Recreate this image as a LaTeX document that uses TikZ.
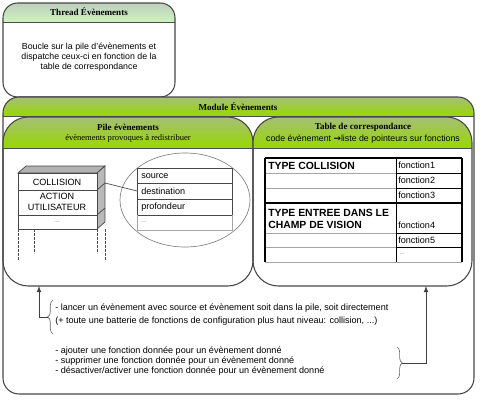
\documentclass[tikz,border=0pt]{standalone}
\usepackage{fontspec}
\setmainfont{Liberation Sans}
\newfontfamily\hdrfont{Liberation Serif}
\newfontfamily\symfont{DejaVu Sans}
\usetikzlibrary{decorations.pathreplacing}

\definecolor{thrtop}{RGB}{190,206,190}
\definecolor{thrbot}{RGB}{206,244,190}
\definecolor{modtop}{RGB}{165,190,120}
\definecolor{modbot}{RGB}{152,216,0}
\definecolor{edge}{RGB}{70,70,70}

\tikzset{
  boxline/.style={draw=edge, line width=0.8pt},
  hdr/.style={font=\hdrfont\bfseries\fontsize{6.8}{7.5}\selectfont, inner sep=0pt},
  sub/.style={font=\hdrfont\fontsize{6.4}{7}\selectfont, inner sep=0pt},
  txt/.style={font=\fontsize{6.6}{7.5}\selectfont, align=center, inner sep=0pt},
  cell/.style={font=\fontsize{6.8}{7}\selectfont, anchor=west, inner sep=0pt},
  bcell/.style={font=\bfseries\fontsize{7.8}{9}\selectfont, anchor=west, inner sep=0pt, align=left},
  dots/.style={text=gray, font=\fontsize{5}{6}\selectfont, inner sep=0pt},
  grid/.style={draw=gray!70, line width=0.5pt},
  lnk/.style={draw=black!75, line width=0.6pt, -latex},
  bracket/.style={draw=black!60, line width=0.5pt, decorate, decoration={brace, amplitude=4pt}},
}

\begin{document}
\begin{tikzpicture}[x=0.75pt, y=-0.75pt]
\useasboundingbox (0,0) rectangle (480,400);

% thread
\begin{scope}
  \clip[rounded corners=11pt] (3,3) rectangle (175,97);
  \shade[top color=thrtop, bottom color=thrbot] (3,3) rectangle (175,22);
\end{scope}
\draw[draw=black!70, line width=0.6pt] (3,22) -- (175,22);
\draw[boxline, rounded corners=11pt] (3,3) rectangle (175,97);
\node[hdr] (thread) at (89,12) {Thread Évènements};
\node[txt] (threadtxt) at (89,57) {Boucle sur la pile d’évènements et\\dispatche ceux-ci en fonction de la\\table de correspondance};

% module
\begin{scope}
  \clip[rounded corners=12pt] (3,97) rectangle (474,394);
  \shade[top color=modtop, bottom color=modbot] (3,97) rectangle (474,116);
\end{scope}
\draw[draw=black!70, line width=0.6pt] (3,116) -- (474,116);
\draw[boxline, rounded corners=12pt] (3,97) rectangle (474,394);
\node[hdr] (module) at (238,107) {Module Évènements};

% pile and table boxes
\foreach \xa/\xb in {3/253, 253/472} {
  \begin{scope}
    \clip[rounded corners=19pt] (\xa,117) rectangle (\xb,286);
    \shade[top color=modtop, bottom color=modbot] (\xa,117) rectangle (\xb,148);
  \end{scope}
  \draw[draw=black!70, line width=0.6pt] (\xa,148) -- (\xb,148);
  \draw[boxline, fill=none, rounded corners=19pt] (\xa,117) rectangle (\xb,286);
}
\node[hdr] (pile) at (128,127) {Pile évènements};
\node[sub] (pilesub) at (128,138) {évènements provoques à redistribuer};
\node[hdr] (table) at (363,127) {Table de correspondance};
\node[txt] (tablesub) at (363,139) {code évènement {\symfont\bfseries →}liste de pointeurs sur fonctions};

% stack
\draw[draw=edge, fill=gray!60, line width=0.5pt] (18,173) -- (26,166) -- (105,166) -- (97,173) -- cycle;
\draw[draw=edge, fill=gray!55, line width=0.5pt] (97,173) -- (105,166) -- (105,222) -- (97,229) -- cycle;
\draw[draw=edge, line width=0.5pt] (97,190) -- (105,183) (97,215) -- (105,208);
\draw[draw=edge, fill=white, line width=0.5pt] (18,173) rectangle (97,229);
\draw[draw=edge, line width=0.5pt] (18,190) -- (97,190) (18,215) -- (97,215);
\foreach \x/\y in {18/260, 34/253, 97/253, 105/260}
  \draw[draw=black!70, dashed, dash pattern=on 2pt off 1pt, line width=0.4pt] (\x,229) -- (\x,\y);
\node[cell, anchor=center] (collision) at (57,182) {COLLISION};
\node[cell, anchor=center, align=center, font=\fontsize{6.8}{7.8}\selectfont] (action) at (57,202) {ACTION\\UTILISATEUR};
\node[dots] (stackdots) at (57,222) {...};

% ellipse with event fields
\draw[draw=gray, line width=0.5pt] (185,200) ellipse (65 and 47);
\draw[draw=edge, fill=white, line width=0.5pt] (137,168) rectangle (232,215);
\draw[draw=edge, line width=0.5pt] (137,183) -- (232,183) (137,199) -- (232,199);
\draw[grid] (137,215) -- (137,230) -- (232,230) -- (232,215);
\node[cell] (source) at (141,176) {source};
\node[cell] (destination) at (141,191) {destination};
\node[cell] (profondeur) at (141,207) {profondeur};
\node[dots, anchor=west] (fielddots) at (141,222) {...};
\coordinate (stackside) at (105,183);
\coordinate (fieldside) at (137,191);
\draw[draw=edge, line width=0.5pt] (stackside) -- (fieldside);

% correspondence table
\foreach \y in {173, 188, 233, 247, 262}
  \draw[grid] (265,\y) -- (396,\y);
\foreach \y in {173, 188, 233, 247}
  \draw[black, line width=0.6pt] (396,\y) -- (462,\y);
\draw[grid] (396,262) -- (462,262);
\draw[black, line width=1.2pt] (265,158) -- (462,158) (265,203) -- (462,203);
\draw[black, line width=1.2pt] (265,158) -- (265,262);
\draw[black, line width=0.6pt] (396,158) -- (396,262);
\draw[black, line width=1pt] (462,158) -- (462,262);
\node[bcell] (typecol) at (268,165.5) {TYPE COLLISION};
\node[bcell] (typechamp) at (268,219) {TYPE ENTREE DANS LE\\CHAMP DE VISION};
\node[cell] (f1) at (398,165.5) {fonction1};
\node[cell] (f2) at (398,180.5) {fonction2};
\node[cell] (f3) at (398,195.5) {fonction3};
\node[cell] (f4) at (398,225.5) {fonction4};
\node[cell] (f5) at (398,240) {fonction5};
\node[dots, anchor=west] (fdots) at (399,254) {...};

% bottom notes
\node[cell, align=left, font=\fontsize{6.8}{9.75}\selectfont] (noteA) at (55,315) {- lancer un évènement avec source et évènement soit dans la pile, soit directement\\(+ toute une batterie de fonctions de configuration plus haut niveau: collision, ...)};
\node[cell, align=left, font=\fontsize{6.8}{7.5}\selectfont] (noteB) at (55,361) {- ajouter une fonction donnée pour un évènement donné\\- supprimer une fonction donnée pour un évènement donné\\- désactiver/activer une fonction donnée pour un évènement donné};
\draw[bracket] (53,334) -- (53,300);
\draw[bracket] (397,347) -- (397,379);
\coordinate (braceA) at (48,317);
\coordinate (braceB) at (402,363);
\coordinate (pileS) at (39,286);
\coordinate (tableS) at (426,286);
\draw[lnk] (braceA) -| (pileS);
\draw[lnk] (braceB) -| (tableS);
\end{tikzpicture}
\end{document}
